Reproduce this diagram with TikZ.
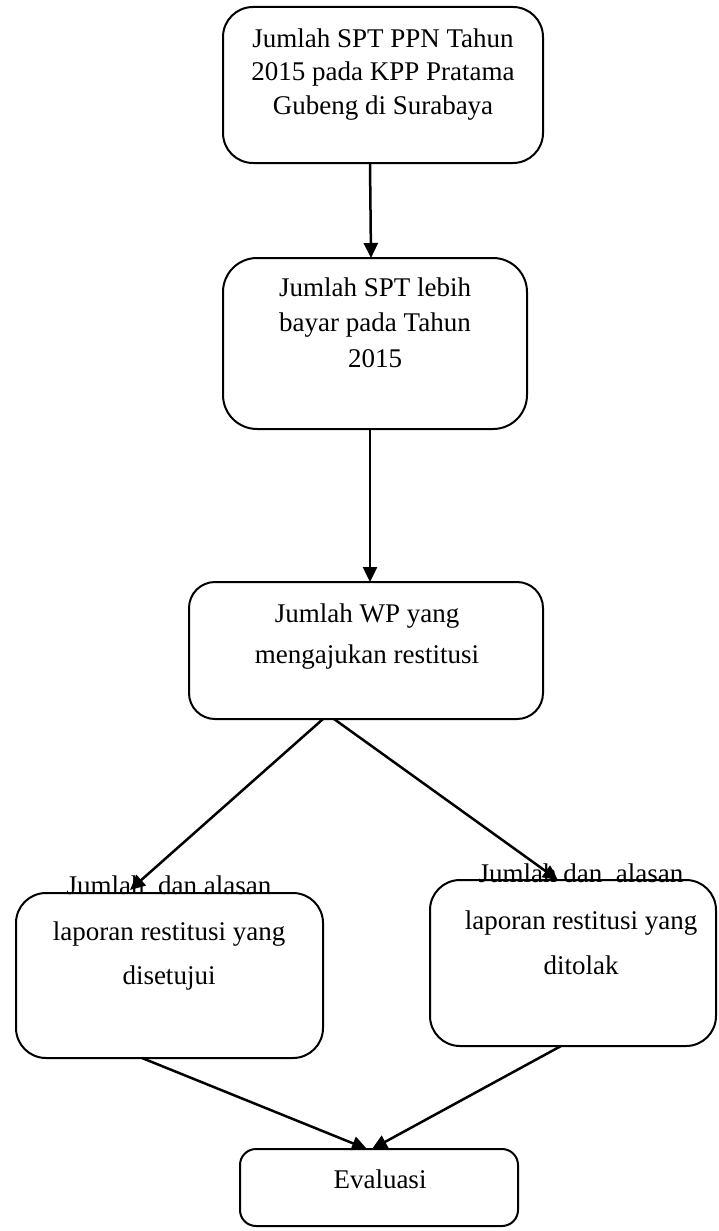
\documentclass[tikz,border=0pt]{standalone}
\usepackage{fontspec}
\setmainfont{Liberation Serif}
\usetikzlibrary{arrows.meta}
\begin{document}
\begin{tikzpicture}[x=1pt,y=-1pt,
  box/.style={draw, line width=2pt, inner sep=0pt, outer sep=0pt},
  txt/.style={anchor=base, inner sep=0pt, font=\fontsize{27}{30}\selectfont},
  conn/.style={line width=2.5pt, -{Triangle[length=15pt,width=14pt]}}]
\useasboundingbox (0,0) rectangle (718,1231);
% boxes
\node[box, rounded corners=30pt, minimum width=320pt, minimum height=156pt] (b1) at (383,85) {};
\node[box, rounded corners=34pt, minimum width=304pt, minimum height=171pt] (b2) at (375,343.5) {};
\node[box, rounded corners=26pt, minimum width=354pt, minimum height=137pt] (b3) at (366,650.5) {};
\node[box, rounded corners=30pt, minimum width=307pt, minimum height=165pt] (b4) at (169.5,975.5) {};
\node[box, rounded corners=30pt, minimum width=286pt, minimum height=166pt] (b5) at (573,963) {};
\node[box, rounded corners=16pt, minimum width=278pt, minimum height=77pt] (b6) at (379,1187.5) {};
% texts
\node[txt] (t1a) at (383,48) {Jumlah SPT PPN Tahun};
\node[txt] (t1b) at (383,81) {2015 pada KPP Pratama};
\node[txt] (t1c) at (383,114) {Gubeng di Surabaya};
\node[txt] (t2a) at (375,296) {Jumlah SPT lebih};
\node[txt] (t2b) at (375,331) {bayar pada Tahun};
\node[txt] (t2c) at (375,367) {2015};
\node[txt] (t3a) at (367,622) {Jumlah WP yang};
\node[txt] (t3b) at (367,663) {mengajukan restitusi};
\node[txt] (t4a) at (169,894) {Jumlah\ \ dan alasan};
\node[txt] (t4b) at (169,940) {laporan restitusi yang};
\node[txt] (t4c) at (169,984) {disetujui};
\node[txt] (t5a) at (581,882) {Jumlah dan\ \ alasan};
\node[txt] (t5b) at (581,929) {laporan restitusi yang};
\node[txt] (t5c) at (581,974) {ditolak};
\node[txt] (t6a) at (380,1188) {Evaluasi};
% connectors
\draw[conn] ([xshift=-13pt]b1.south) -- ([xshift=-4pt]b2.north);
\draw[conn] ([xshift=-5pt]b2.south) -- ([xshift=4pt]b3.north);
\draw[conn] ([xshift=-43pt]b3.south) -- ([xshift=-39.5pt,yshift=3pt]b4.north);
\draw[conn] ([xshift=-32pt]b3.south) -- ([xshift=-15pt]b5.north);
\draw[conn] ([xshift=-27.5pt]b4.south) -- ([xshift=-12pt]b6.north);
\draw[conn] ([xshift=-12pt]b5.south) -- ([xshift=-7pt]b6.north);
\end{tikzpicture}
\end{document}
